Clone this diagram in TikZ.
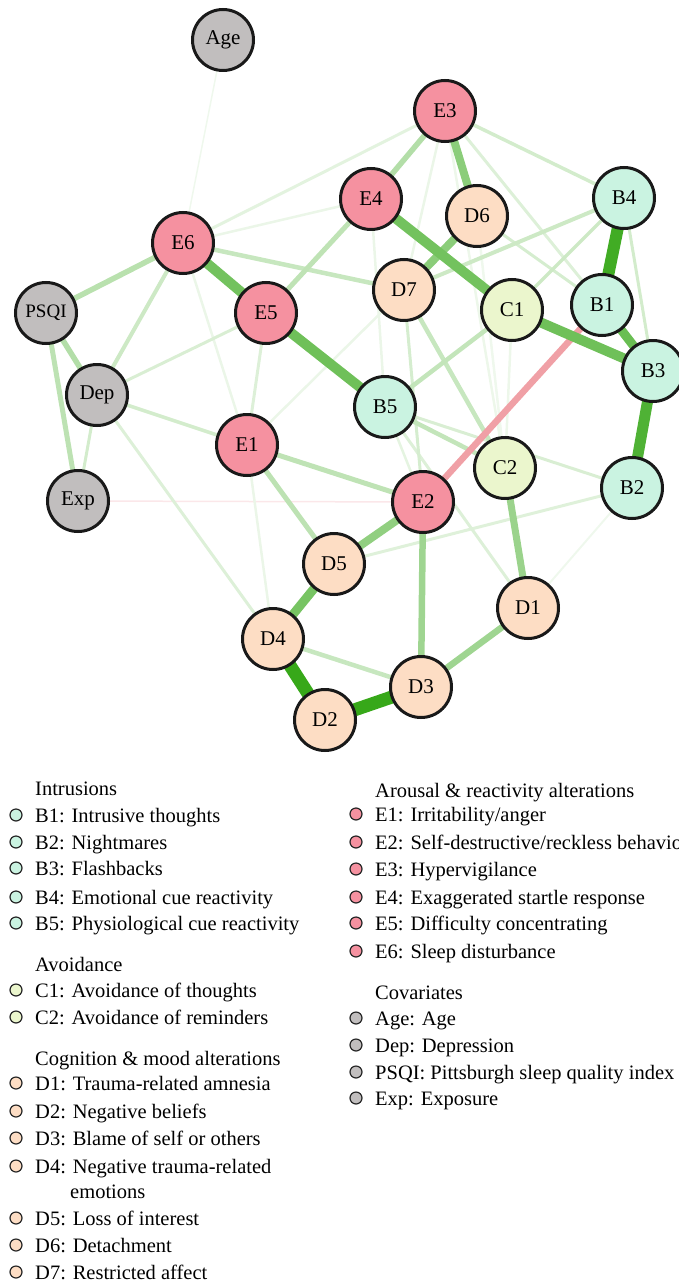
\documentclass[tikz,border=0pt]{standalone}
\usepackage{fontspec}
\setmainfont{Liberation Serif}
\usetikzlibrary{backgrounds}
\definecolor{gb}{RGB}{55,168,25}
\definecolor{rb}{RGB}{240,160,166}
\definecolor{cE}{RGB}{245,145,160}
\definecolor{cD}{RGB}{253,221,196}
\definecolor{cB}{RGB}{202,243,225}
\definecolor{cC}{RGB}{235,246,205}
\definecolor{cG}{RGB}{193,190,190}
\tikzset{
  nd/.style={circle, draw=black!90, line width=3pt, minimum size=61pt, inner sep=0pt, font=\fontsize{21}{21}\selectfont},
  mk/.style={circle, draw=black!85, line width=1.2pt, minimum size=12pt, inner sep=0pt},
  lg/.style={anchor=base west, inner sep=0pt, font=\fontsize{20.5}{24}\selectfont},
}
\newcommand\edg[4]{\draw[line width=#3pt, draw=gb!#4!white] (#1.center) -- (#2.center);}
\newcommand\lgitem[4]{\node[mk, fill=#1] (m#4) at (#2-19,#3) {}; \node[lg] (t#4) at (#2,#3+7) {#4};}
\begin{document}
\begin{tikzpicture}[x=1pt,y=-1pt]
\useasboundingbox (0,0) rectangle (679,1284);
\clip (0,0) rectangle (679,1284);
% nodes
\node[nd, fill=cG] (Age)  at (223,40)  {Age};
\node[nd, fill=cE] (E3)   at (445,111) {E3};
\node[nd, fill=cE] (E4)   at (371,199) {E4};
\node[nd, fill=cD] (D6)   at (477,216) {D6};
\node[nd, fill=cB] (B4)   at (624,198) {B4};
\node[nd, fill=cE] (E6)   at (183,243) {E6};
\node[nd, fill=cD] (D7)   at (404,290) {D7};
\node[nd, fill=cC] (C1)   at (512,310) {C1};
\node[nd, fill=cB] (B1)   at (602,305) {B1};
\node[nd, fill=cG, font=\fontsize{19}{19}\selectfont] (PSQI) at (46,313) {PSQI};
\node[nd, fill=cE] (E5)   at (266,313) {E5};
\node[nd, fill=cB] (B3)   at (653,371) {B3};
\node[nd, fill=cG] (Dep)  at (97,395)  {Dep};
\node[nd, fill=cB] (B5)   at (385,407) {B5};
\node[nd, fill=cE] (E1)   at (247,445) {E1};
\node[nd, fill=cC] (C2)   at (505,468) {C2};
\node[nd, fill=cE] (E2)   at (423,502) {E2};
\node[nd, fill=cB] (B2)   at (632,488) {B2};
\node[nd, fill=cG] (Exp)  at (78,501)  {Exp};
\node[nd, fill=cD] (D5)   at (334,564) {D5};
\node[nd, fill=cD] (D1)   at (528,608) {D1};
\node[nd, fill=cD] (D4)   at (273,639) {D4};
\node[nd, fill=cD] (D3)   at (421,687) {D3};
\node[nd, fill=cD] (D2)   at (325,720) {D2};
% edges
\begin{pgfonlayer}{background}
\draw[line width=1.5pt, draw=gb!8!white] (Age.center) -- (E6.center);
\draw[line width=1.5pt, draw=rb!25!white] (Exp.center) -- (E2.center);
\edg{B2}{D1}{2}{8}
\edg{E6}{E4}{2.5}{10}
\edg{E1}{D7}{2.5}{10}
\edg{E4}{B5}{2.5}{10}
\edg{E3}{D7}{2.5}{10}
\edg{E3}{C2}{2.5}{9}
\edg{C1}{C2}{2.5}{9}
\edg{D6}{C2}{2.5}{8}
\edg{E1}{D4}{2.5}{10}
\edg{E6}{E1}{2.5}{10}
\edg{B5}{E2}{2.5}{13}
\edg{E6}{E3}{3}{14}
\edg{E3}{B1}{3}{17}
\edg{Dep}{D4}{3}{17}
\edg{D5}{B2}{3}{16}
\edg{B5}{D1}{3}{17}
\edg{E5}{E1}{3}{17}
\edg{Dep}{E5}{3}{19}
\edg{B5}{B2}{3}{19}
\edg{Dep}{E1}{3.5}{22}
\edg{B4}{B3}{3}{22}
\edg{D6}{B1}{3}{21}
\edg{D7}{E2}{3}{21}
\edg{Dep}{Exp}{3}{22}
\edg{E3}{B4}{3.5}{22}
\edg{B4}{D7}{4}{25}
\edg{B4}{C1}{3.5}{25}
\edg{Dep}{E6}{4}{25}
\edg{D4}{D3}{4.5}{28}
\edg{E6}{D7}{4.5}{28}
\edg{D7}{C2}{4.5}{28}
\edg{C1}{B5}{4.5}{30}
\edg{B5}{C2}{4.5}{30}
\edg{E4}{E5}{5}{32}
\edg{E1}{E2}{5}{32}
\edg{E1}{D5}{5}{33}
\edg{PSQI}{Exp}{5}{33}
\edg{E6}{PSQI}{5.5}{35}
\edg{PSQI}{Dep}{5.5}{38}
\edg{E3}{E4}{5.5}{38}
\draw[line width=6.5pt, draw=rb] (E2.center) -- (B1.center);
\edg{E2}{D3}{6.5}{48}
\edg{D1}{D3}{6.5}{48}
\edg{C2}{D1}{7}{50}
\edg{E2}{D5}{8}{55}
\edg{E3}{D6}{8}{58}
\edg{D6}{D7}{8}{58}
\edg{D5}{D4}{9}{68}
\edg{E6}{E5}{10}{70}
\edg{E4}{C1}{10}{70}
\edg{E5}{B5}{10}{72}
\edg{C1}{B3}{10}{72}
\edg{B1}{B3}{9}{75}
\edg{B3}{B2}{11}{88}
\edg{B4}{B1}{12}{95}
\edg{D2}{D3}{13}{100}
\edg{D4}{D2}{13}{100}
\end{pgfonlayer}
% legend left
\node[lg] (hB) at (35,788+7) {Intrusions};
\lgitem{cB}{35}{815}{B1: Intrusive thoughts}
\lgitem{cB}{35}{842}{B2: Nightmares}
\lgitem{cB}{35}{868}{B3: Flashbacks}
\lgitem{cB}{35}{897}{B4: Emotional cue reactivity}
\lgitem{cB}{35}{923}{B5: Physiological cue reactivity}
\node[lg] (hC) at (35,964+7) {Avoidance};
\lgitem{cC}{35}{990}{C1: Avoidance of thoughts}
\lgitem{cC}{35}{1017}{C2: Avoidance of reminders}
\node[lg] (hD) at (35,1058+7) {Cognition \& mood alterations};
\lgitem{cD}{35}{1083}{D1: Trauma-related amnesia}
\lgitem{cD}{35}{1111}{D2: Negative beliefs}
\lgitem{cD}{35}{1138}{D3: Blame of self or others}
\lgitem{cD}{35}{1166}{D4: Negative trauma-related}
\node[lg] (tD4b) at (70,1191+7) {emotions};
\lgitem{cD}{35}{1218}{D5: Loss of interest}
\lgitem{cD}{35}{1245}{D6: Detachment}
\lgitem{cD}{35}{1272}{D7: Restricted affect}
% legend right
\node[lg] (hE) at (375,790+7) {Arousal \& reactivity alterations};
\lgitem{cE}{375}{814}{E1: Irritability/anger}
\lgitem{cE}{375}{842}{E2: Self-destructive/reckless behavior}
\lgitem{cE}{375}{869}{E3: Hypervigilance}
\lgitem{cE}{375}{897}{E4: Exaggerated startle response}
\lgitem{cE}{375}{923}{E5: Difficulty concentrating}
\lgitem{cE}{375}{951}{E6: Sleep disturbance}
\node[lg] (hG) at (375,992+7) {Covariates};
\lgitem{cG}{375}{1018}{Age: Age}
\lgitem{cG}{375}{1045}{Dep: Depression}
\lgitem{cG}{375}{1072}{PSQI: Pittsburgh sleep quality index}
\lgitem{cG}{375}{1098}{Exp: Exposure}
\end{tikzpicture}
\end{document}
